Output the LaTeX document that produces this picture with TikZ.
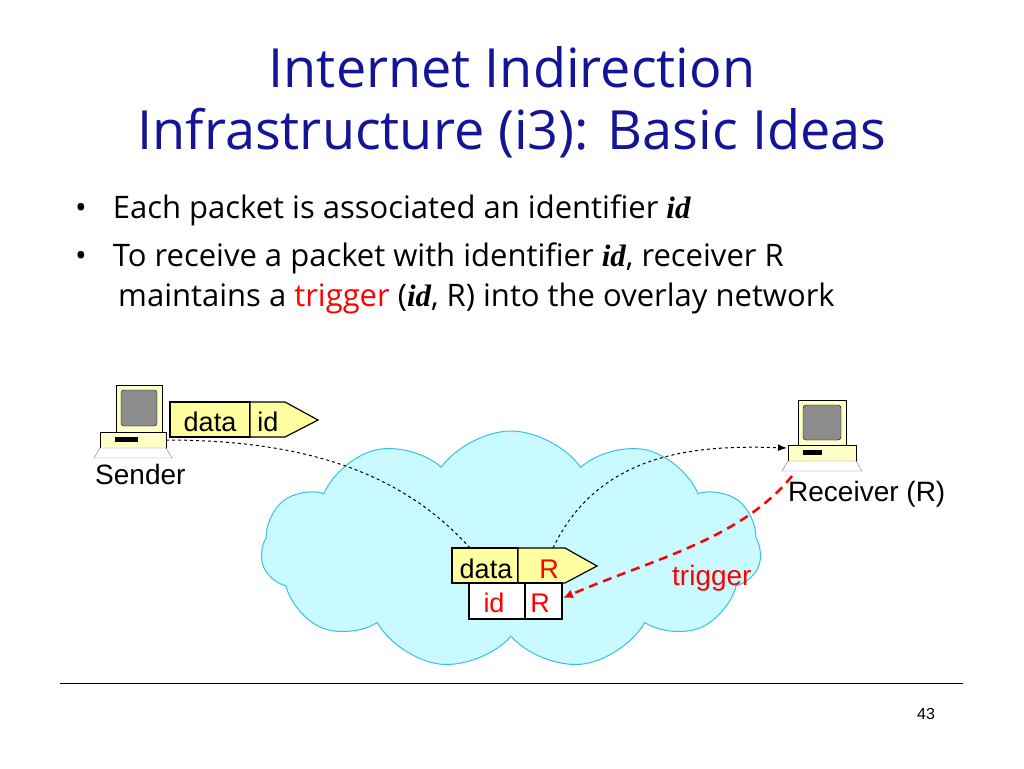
\documentclass[tikz,border=0pt]{standalone}
\usepackage{fontspec}
\setmainfont{Open Sans}
\newfontfamily\bodyfont{Liberation Sans}
\newfontfamily\idfont{Liberation Serif}
\usepackage{xcolor}
\definecolor{title-blue}{RGB}{20,20,150}
\definecolor{cloud-fill}{RGB}{200,250,255}
\definecolor{cloud-line}{RGB}{60,190,230}
\definecolor{packet-fill}{RGB}{255,255,160}
\definecolor{screen-grey}{RGB}{140,140,140}
\definecolor{case-fill}{RGB}{255,255,200}
\usetikzlibrary{shapes.symbols,positioning,arrows.meta}
\newcommand{\idmark}{{\idfont\bfseries\itshape id}}

\begin{document}
\begin{tikzpicture}[x=1pt,y=-1pt,
    packet cell/.style={draw=black, line width=1.2pt, fill=packet-fill},
    trigger cell/.style={draw=black, line width=2pt, fill=white},
    cell text/.style={font=\bodyfont\fontsize{27}{27}\selectfont, inner sep=0pt, anchor=base},
    bullet text/.style={font=\fontsize{31}{38}\selectfont, anchor=base west, inner sep=0pt},
    label text/.style={font=\bodyfont\fontsize{28}{28}\selectfont, inner sep=0pt, anchor=base west},
    data path/.style={dashed, line width=1pt},
    trigger path/.style={red, dashed, line width=2.5pt, dash pattern=on 9pt off 6pt}
]
\useasboundingbox (0,0) rectangle (1024,768);

% Title
\node[font=\fontsize{54}{62}\selectfont, text=title-blue, align=center] (title) at (512,102)
    {Internet Indirection\\Infrastructure (i3): Basic Ideas};

% Bullets
\node[bullet text] (b1) at (75,218) {\textbullet\hspace{26pt}Each packet is associated an identifier \idmark};
\node[bullet text] (b2) at (75,266) {\textbullet\hspace{26pt}To receive a packet with identifier \idmark, receiver R};
\node[bullet text] (b3) at (118,306) {maintains a \textcolor{red}{trigger} (\idmark, R) into the overlay network};

% Cloud
\node[cloud, cloud puffs=11, cloud puff arc=110, draw=cloud-line, fill=cloud-fill,
      minimum width=500, minimum height=238, line width=1pt] (overlay) at (511,550) {};

% Sender computer
\draw[fill=case-fill] (116,385) rectangle (162,432);
\draw[fill=screen-grey, rounded corners=3pt] (121,390) rectangle (157,426);
\draw[fill=case-fill] (100,432) rectangle (166,448);
\fill (115,437) rectangle (138,442);
\draw[fill=white, draw=gray] (100,448) -- (166,448) -- (172,458) -- (94,458) -- cycle;
\coordinate (sender) at (166,440);
\node[label text] (sender label) at (95,484) {Sender};

% Receiver computer
\draw[fill=case-fill] (798,400) rectangle (846,445);
\draw[fill=screen-grey, rounded corners=3pt] (803,405) rectangle (841,440);
\draw[fill=case-fill] (788,445) rectangle (856,461);
\fill (803,450) rectangle (822,455);
\draw[fill=white, draw=gray] (788,461) -- (856,461) -- (862,471) -- (782,471) -- cycle;
\coordinate (receiver) at (787,448);
\coordinate (receiver foot) at (792,476);
\node[label text] (receiver label) at (788,501) {Receiver (R)};

% Packet at sender
\draw[packet cell] (170,402) rectangle (250,437);
\draw[packet cell] (250,402) -- (285,402) -- (318,420) -- (285,437) -- (250,437) -- cycle;
\node[cell text] (p1 data) at (210,431) {data};
\node[cell text] (p1 id) at (268,431) {id};

% Packet in the overlay
\draw[packet cell] (452,548) rectangle (518,583);
\draw[packet cell] (518,548) -- (565,548) -- (597,566) -- (565,583) -- (518,583) -- cycle;
\node[cell text] (p2 data) at (486,578) {data};
\node[cell text, text=red] (p2 r) at (549,578) {R};
\coordinate (p2 in) at (470,548);
\coordinate (p2 out) at (553,548);

% Trigger
\draw[trigger cell] (469,583) rectangle (525,619);
\draw[trigger cell] (525,583) rectangle (562,619);
\node[cell text, text=red] (t id) at (494,612) {id};
\node[cell text, text=red] (t r) at (540,612) {R};
\coordinate (t end) at (563,598);
\node[label text, text=red] (trigger label) at (672,585) {trigger};

% Paths
\draw[data path] (sender) .. controls (300,440) and (400,470) .. (p2 in);
\draw[data path, -{Latex[length=9pt]}] (p2 out) .. controls (600,450) and (700,445) .. (receiver);
\draw[trigger path, -{Latex[length=10pt,width=9pt]}] (receiver foot) .. controls (740,540) and (650,560) .. (t end);

% Footer
\draw[line width=0.8pt] (60,683) -- (963,683);
\node[font=\bodyfont\fontsize{16}{16}\selectfont] (page) at (926,714) {43};
\end{tikzpicture}
\end{document}
